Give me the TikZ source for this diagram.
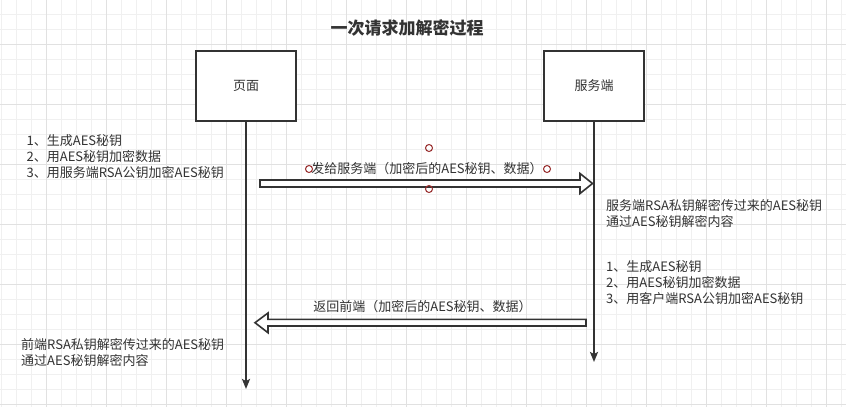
\documentclass[tikz,border=0pt]{standalone}
\usepackage{fontspec}
\setmainfont{Noto Sans CJK SC}
\usetikzlibrary{arrows.meta}
\definecolor{ink}{RGB}{51,51,51}
\definecolor{gminor}{RGB}{240,240,240}
\definecolor{gmajor}{RGB}{225,225,225}
\definecolor{handle}{RGB}{150,40,40}
\tikzset{
  actor/.style={draw=ink,line width=2pt,fill=white,minimum width=100pt,minimum height=70pt,inner sep=0pt,font=\fontsize{13}{15}\selectfont,text=ink},
  lifeline/.style={draw=ink,line width=2pt,-{Stealth[length=10pt,width=8pt,inset=2pt]}},
  txt/.style={inner sep=0pt,align=left,anchor=west,font=\fontsize{13}{16}\selectfont,text=ink},
  lbl/.style={inner sep=0pt,font=\fontsize{13}{16}\selectfont,text=ink},
  flex/.style={draw=ink,line width=1.6pt,fill=white,line join=miter},
  hdl/.style={draw=handle,line width=1pt}
}
\begin{document}
\begin{tikzpicture}[x=1pt,y=-1pt]
\useasboundingbox (0,0) rectangle (846,407);
\fill[white] (0,0) rectangle (846,407);
% grid
\foreach \i in {0,...,56} {\draw[gminor,line width=1pt] ({1+15*\i},0) -- ({1+15*\i},407);}
\foreach \j in {0,...,26} {\draw[gminor,line width=1pt] (0,{14+15*\j}) -- (846,{14+15*\j});}
\foreach \i in {0,...,13} {\draw[gmajor,line width=1pt] ({46+60*\i},0) -- ({46+60*\i},407);}
\foreach \j in {0,...,6} {\draw[gmajor,line width=1pt] (0,{44+60*\j}) -- (846,{44+60*\j});}
% title
\node[lbl,font=\fontsize{17}{19}\selectfont\bfseries] (title) at (407,27.5) {一次请求加解密过程};
% actors
\node[actor] (p) at (246,86) {页面};
\node[actor] (s) at (594,86) {服务端};
\coordinate (pend) at (246,389);
\coordinate (send) at (594,362);
\draw[lifeline] (p.south) -- (pend);
\draw[lifeline] (s.south) -- (send);
% send arrow
\coordinate (a1) at (260,183.5);
\coordinate (a2) at (592.5,183.5);
\draw[flex] (a1) ++(0,-3.5) -- (580,180) -- (580,173.5) -- (a2) -- (580,193.5) -- (580,187) -- (260,187) -- cycle;
\node[lbl] (sendlbl) at (427,169) {发给服务端（加密后的AES秘钥、数据）};
\foreach \p in {(429,148),(309,169),(547,169),(429,189)} {\draw[hdl] \p circle (3.5);}
% return arrow
\coordinate (b1) at (586,322.7);
\coordinate (b2) at (255,322.7);
\draw[flex] (b1) ++(0,-3.3) -- (268,319.4) -- (268,313) -- (b2) -- (268,332.7) -- (268,326) -- (586,326) -- cycle;
\node[lbl] (retlbl) at (422.5,307) {返回前端（加密后的AES秘钥、数据）};
% texts
\node[txt] (l1) at (26.5,156.7) {1、生成AES秘钥\\2、用AES秘钥加密数据\\3、用服务端RSA公钥加密AES秘钥};
\node[txt] (r1) at (606,213.3) {服务端RSA私钥解密传过来的AES秘钥\\通过AES秘钥解密内容};
\node[txt] (r2) at (606,282.5) {1、生成AES秘钥\\2、用AES秘钥加密数据\\3、用客户端RSA公钥加密AES秘钥};
\node[txt] (l2) at (21,353) {前端RSA私钥解密传过来的AES秘钥\\通过AES秘钥解密内容};
\end{tikzpicture}
\end{document}
